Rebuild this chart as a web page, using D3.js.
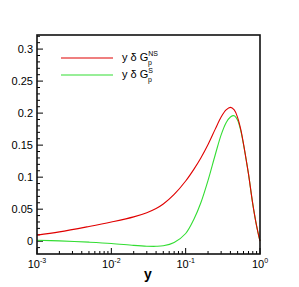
<!DOCTYPE html>
<html>
<head>
<meta charset="utf-8">
<script src="https://cdn.jsdelivr.net/npm/d3@7"></script>
<style>
  body { margin: 0; background: #fff; }
  text { font-family: "Liberation Sans", Arial, sans-serif; }
</style>
</head>
<body>
<div id="chart"></div>
<script>
// x positions (log spaced) and the two curves
const xs = [0.001, 0.002, 0.005, 0.01, 0.02, 0.03, 0.04, 0.05, 0.07, 0.1, 0.13, 0.16, 0.2, 0.25,
  0.3, 0.35, 0.4, 0.45, 0.5, 0.55, 0.6, 0.65, 0.7, 0.8, 0.9, 1.0];
const nsValues = [0.0095, 0.0145, 0.023, 0.030, 0.038, 0.0445, 0.051, 0.058, 0.073, 0.094, 0.113, 0.130, 0.151, 0.175,
  0.194, 0.205, 0.209, 0.205, 0.193, 0.175, 0.152, 0.128, 0.105, 0.058, 0.024, 0.0];
const sValues = [0.0015, 0.0005, -0.0015, -0.0035, -0.0065, -0.0078, -0.008, -0.0072, -0.002, 0.012, 0.035, 0.060, 0.095, 0.135,
  0.166, 0.185, 0.194, 0.196, 0.189, 0.173, 0.151, 0.128, 0.105, 0.058, 0.024, 0.0];
const yTicks = [0, 0.05, 0.1, 0.15, 0.2, 0.25, 0.3];
const xTicks = [0.001, 0.01, 0.1, 1];
const xExps = ["-3", "-2", "-1", "0"];

const width = 299, height = 287;
const margin = { top: 35, right: 39, bottom: 33, left: 37 };

const svg = d3.select("#chart").append("svg")
  .attr("width", width)
  .attr("height", height);

const x = d3.scaleLog()
  .domain([0.001, 1])
  .range([margin.left, width - margin.right]);

const y = d3.scaleLinear()
  .domain([-0.02, 0.322])
  .range([height - margin.bottom, margin.top]);

// minor ticks
const yMinor = d3.range(-0.01, 0.321, 0.01).filter(v => Math.abs(Math.round(v * 100) % 5) !== 0);
svg.append("g").selectAll("line")
  .data(yMinor)
  .join("line")
  .attr("x1", margin.left).attr("x2", margin.left + 3)
  .attr("y1", d => y(d)).attr("y2", d => y(d))
  .attr("stroke", "#000");

svg.append("g").selectAll("line")
  .data(yTicks)
  .join("line")
  .attr("x1", margin.left).attr("x2", margin.left + 6)
  .attr("y1", d => y(d)).attr("y2", d => y(d))
  .attr("stroke", "#000");

const xMinor = [];
[0.001, 0.01, 0.1].forEach(b => { for (let k = 2; k <= 9; k++) xMinor.push(b * k); });
svg.append("g").selectAll("line")
  .data(xMinor)
  .join("line")
  .attr("x1", d => x(d)).attr("x2", d => x(d))
  .attr("y1", height - margin.bottom).attr("y2", height - margin.bottom - 3)
  .attr("stroke", "#000");

svg.append("g").selectAll("line")
  .data(xTicks)
  .join("line")
  .attr("x1", d => x(d)).attr("x2", d => x(d))
  .attr("y1", height - margin.bottom).attr("y2", height - margin.bottom - 6)
  .attr("stroke", "#000");

// tick labels
svg.append("g").selectAll("text")
  .data(yTicks)
  .join("text")
  .attr("x", margin.left - 4)
  .attr("y", d => y(d))
  .attr("dy", "0.35em")
  .attr("text-anchor", "end")
  .style("font-size", "11px")
  .text(d => d3.format("")(d));

const xl = svg.append("g").selectAll("text")
  .data(xTicks)
  .join("text")
  .attr("x", d => x(d))
  .attr("y", height - margin.bottom + 14)
  .attr("text-anchor", "middle")
  .style("font-size", "11px");
xl.append("tspan").text("10");
xl.append("tspan")
  .attr("dy", -5)
  .style("font-size", "7px")
  .text((d, i) => xExps[i]);

// curves
const line = d3.line()
  .x((d, i) => x(xs[i]))
  .y(d => y(d))
  .curve(d3.curveCatmullRom.alpha(0.5));

svg.append("path")
  .datum(sValues)
  .attr("fill", "none")
  .attr("stroke", "#33dd33")
  .attr("stroke-width", 1.1)
  .attr("d", line);

svg.append("path")
  .datum(nsValues)
  .attr("fill", "none")
  .attr("stroke", "#e00000")
  .attr("stroke-width", 1.1)
  .attr("d", line);

// frame
svg.append("rect")
  .attr("x", margin.left)
  .attr("y", margin.top)
  .attr("width", width - margin.left - margin.right)
  .attr("height", height - margin.top - margin.bottom)
  .attr("fill", "none")
  .attr("stroke", "#111")
  .attr("stroke-width", 1.6);

// axis title
svg.append("text")
  .attr("x", 148)
  .attr("y", 279)
  .attr("text-anchor", "middle")
  .style("font-size", "14px")
  .style("font-weight", "bold")
  .text("y");

// legend
const legend = [
  { color: "#e00000", sup: "NS", ly: 58 },
  { color: "#33dd33", sup: "S", ly: 75 }
];
legend.forEach(d => {
  svg.append("line")
    .attr("x1", 61).attr("x2", 113)
    .attr("y1", d.ly).attr("y2", d.ly)
    .attr("stroke", d.color)
    .attr("stroke-width", 1.1);
  const t = svg.append("text")
    .attr("x", 122)
    .attr("y", d.ly + 3)
    .style("font-size", "11px");
  t.append("tspan").text("y δ G");
  t.append("tspan").attr("dy", -5).attr("dx", 0).style("font-size", "7px").text(d.sup);
  t.append("tspan").attr("dx", -(d.sup.length * 5)).attr("dy", 9).style("font-size", "7px").text("p");
});
</script>
</body>
</html>
